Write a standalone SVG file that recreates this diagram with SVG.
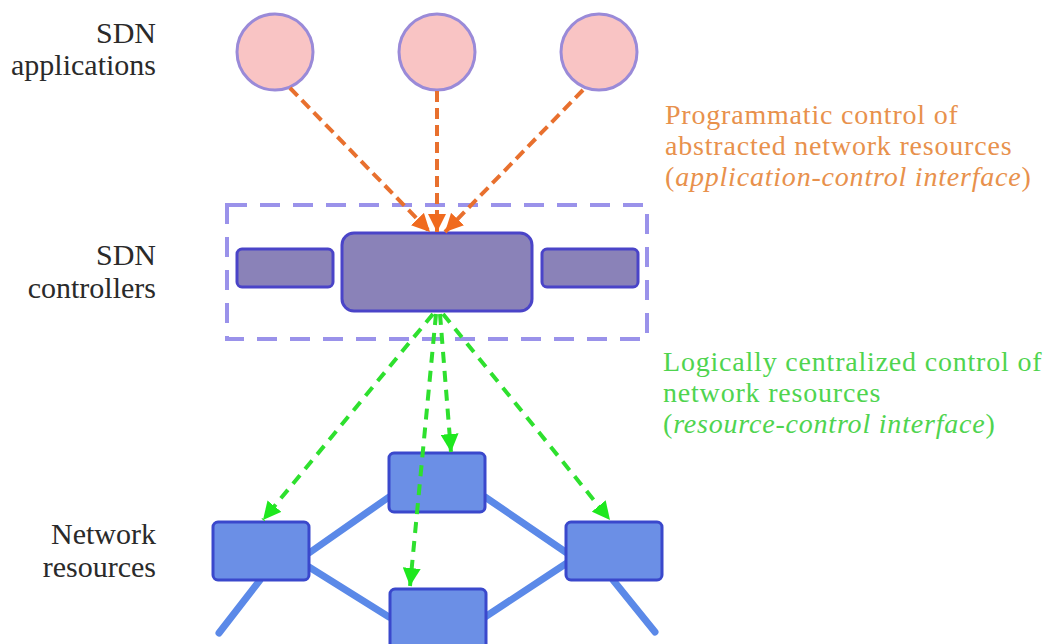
<svg xmlns="http://www.w3.org/2000/svg" width="1052" height="644" viewBox="0 0 1052 644">
<defs>
<style>
text{font-family:"Liberation Serif","DejaVu Serif","Times New Roman",serif;font-size:30px}
.lbl{fill:#2a2a2a;text-anchor:end}
.otx{fill:#e8914c;font-size:28px;letter-spacing:0.8px}
.gtx{fill:#4fd44f;font-size:28px;letter-spacing:0.8px}
.app{fill:#f9c4c4;stroke:#9a8ad8;stroke-width:3}
.ctl{fill:#8a82b8;stroke:#4a44c8;stroke-width:3}
.res{fill:#6b8fe6;stroke:#3a48cc;stroke-width:3}
.link{stroke:#5b89e8;stroke-width:7;stroke-linecap:round}
.oarr{stroke:#e8702e;stroke-width:4;stroke-dasharray:11 6;fill:none}
.garr{stroke:#2ee02e;stroke-width:4;stroke-dasharray:11 8;fill:none}
</style>
<marker id="ah-o" markerUnits="userSpaceOnUse" markerWidth="20" markerHeight="18" refX="18" refY="9" orient="auto">
<path d="M0,0 L18,9 L0,18 Z" fill="#f06a1e"/>
</marker>
<marker id="ah-g" markerUnits="userSpaceOnUse" markerWidth="20" markerHeight="18" refX="18" refY="9" orient="auto">
<path d="M0,0 L18,9 L0,18 Z" fill="#1ee81e"/>
</marker>
</defs>
<rect width="1052" height="644" fill="#ffffff"/>

<g id="labels">
<text class="lbl" x="156" y="43">SDN</text>
<text class="lbl" x="156" y="75">applications</text>
<text class="lbl" x="156" y="265">SDN</text>
<text class="lbl" x="156" y="298">controllers</text>
<text class="lbl" x="156" y="544">Network</text>
<text class="lbl" x="156" y="577">resources</text>
</g>

<g id="app-interface-label">
<text class="otx" x="665" y="124">Programmatic control of</text>
<text class="otx" x="665" y="155">abstracted network resources</text>
<text class="otx" x="665" y="186">(<tspan font-style="italic">application-control interface</tspan>)</text>
</g>

<g id="res-interface-label">
<text class="gtx" x="663" y="371">Logically centralized control of</text>
<text class="gtx" x="663" y="402">network resources</text>
<text class="gtx" x="663" y="433">(<tspan font-style="italic">resource-control interface</tspan>)</text>
</g>

<g id="app1"><ellipse class="app" cx="275" cy="52" rx="38" ry="38"/></g>
<g id="app2"><ellipse class="app" cx="437" cy="52" rx="38" ry="38"/></g>
<g id="app3"><ellipse class="app" cx="599" cy="52" rx="38" ry="38"/></g>

<g id="controller-group">
<rect x="227" y="205" width="420" height="134" fill="none" stroke="#9a92ea" stroke-width="4" stroke-dasharray="20 13"/>
</g>
<g id="ctl-left"><rect class="ctl" x="237" y="249" width="96" height="38" rx="5"/></g>
<g id="ctl-main"><rect class="ctl" x="342" y="233" width="190" height="78" rx="12"/></g>
<g id="ctl-right"><rect class="ctl" x="542" y="249" width="96" height="38" rx="5"/></g>

<g id="links">
<line class="link" x1="309" y1="553" x2="389" y2="497"/>
<line class="link" x1="309" y1="567" x2="389" y2="617"/>
<line class="link" x1="485" y1="497" x2="567" y2="553"/>
<line class="link" x1="485" y1="617" x2="567" y2="563"/>
<line class="link" x1="260" y1="580" x2="219" y2="633"/>
<line class="link" x1="613" y1="580" x2="655" y2="632"/>
</g>

<g id="res-top"><rect class="res" x="389" y="453" width="96" height="59" rx="5"/></g>
<g id="res-left"><rect class="res" x="213" y="522" width="96" height="58" rx="5"/></g>
<g id="res-right"><rect class="res" x="566" y="522" width="96" height="58" rx="5"/></g>
<g id="res-bottom"><rect class="res" x="390" y="589" width="96" height="70" rx="5"/></g>

<g id="connectors">
<line class="oarr" x1="290" y1="88" x2="430" y2="232" marker-end="url(#ah-o)"/>
<line class="oarr" x1="437" y1="91" x2="437" y2="232" marker-end="url(#ah-o)"/>
<line class="oarr" x1="583" y1="90" x2="445" y2="232" marker-end="url(#ah-o)"/>
<line class="garr" x1="433" y1="314" x2="263" y2="520" marker-end="url(#ah-g)"/>
<line class="garr" x1="440" y1="314" x2="451" y2="452" marker-end="url(#ah-g)"/>
<line class="garr" x1="436" y1="314" x2="410" y2="586" marker-end="url(#ah-g)"/>
<line class="garr" x1="443" y1="314" x2="610" y2="520" marker-end="url(#ah-g)"/>
</g>
</svg>
